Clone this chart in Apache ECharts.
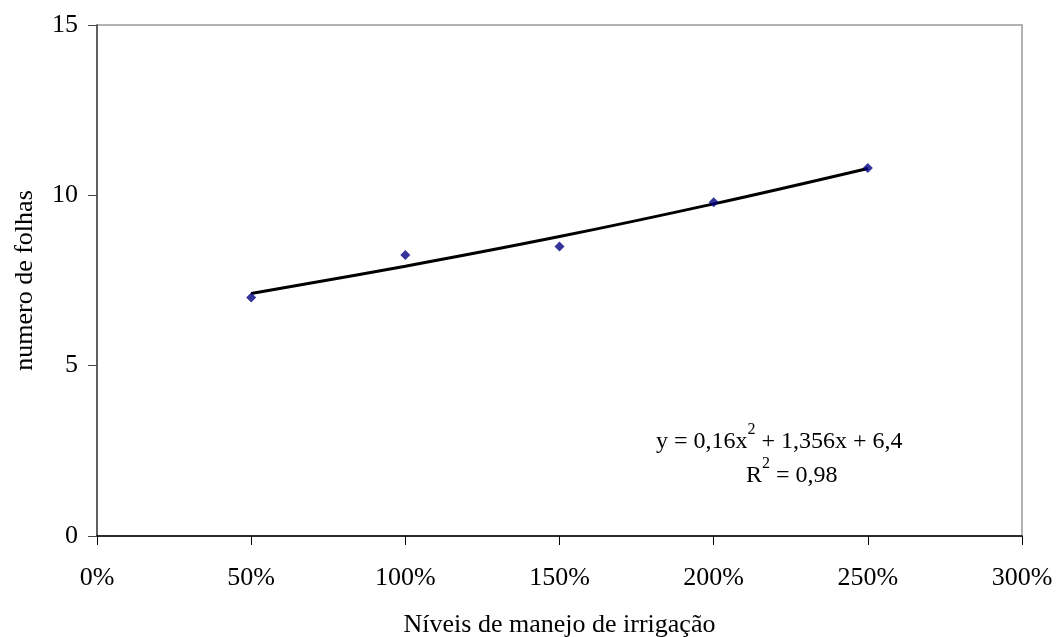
<!DOCTYPE html>
<html><head><meta charset="utf-8">
<script src="https://cdn.jsdelivr.net/npm/echarts@6/dist/echarts.min.js"></script>
<style>html,body{margin:0;padding:0;background:#fff}#c{width:1056px;height:637px}</style>
</head><body><div id="c"></div>
<script>
const xLevels = [0.5, 1.0, 1.5, 2.0, 2.5];
const leafCounts = [7.0, 8.25, 8.5, 9.8, 10.8];
const trendValues = [7.12, 7.92, 8.79, 9.75, 10.79];
const xTicks = ['0%', '50%', '100%', '150%', '200%', '250%', '300%'];
const yTicks = [0, 5, 10, 15];
const FONT = '"Liberation Serif", "Times New Roman", serif';
const FS = 26;
const chart = echarts.init(document.getElementById('c'));
const rich = {
  a: {fontFamily: FONT, fontSize: 24, fill: '#000', lineHeight: 32, verticalAlign: 'bottom'},
  s: {fontFamily: FONT, fontSize: 16, fill: '#000', lineHeight: 32, verticalAlign: 'top'}
};
chart.setOption({
  animation: false,
  grid: {left: 97, right: 34, top: 25, bottom: 101, outerBoundsMode: 'none', containLabel: false,
         show: true, borderColor: '#999', borderWidth: 1.5},
  xAxis: {
    type: 'value', min: 0, max: 3, interval: 0.5,
    name: 'Níveis de manejo de irrigação', nameLocation: 'middle', nameGap: 76,
    nameTextStyle: {fontFamily: FONT, fontSize: FS, color: '#000'},
    axisLine: {lineStyle: {color: '#000', width: 1.5}},
    axisTick: {show: true, length: 9, lineStyle: {color: '#000'}},
    axisLabel: {fontFamily: FONT, fontSize: FS, color: '#000', margin: 29,
      formatter: v => xTicks[Math.round(v / 0.5)]},
    splitLine: {show: false}
  },
  yAxis: {
    type: 'value', min: 0, max: 15, interval: 5,
    name: 'numero de folhas', nameLocation: 'middle', nameGap: 59, nameRotate: 90,
    nameTextStyle: {fontFamily: FONT, fontSize: FS, color: '#000'},
    axisLine: {show: true, lineStyle: {color: '#444', width: 1.5}},
    axisTick: {show: true, length: 9, lineStyle: {color: '#444'}},
    axisLabel: {fontFamily: FONT, fontSize: FS, color: '#000', margin: 19,
      formatter: v => yTicks.includes(v) ? String(v) : ''},
    splitLine: {show: false}
  },
  series: [
    {type: 'line', data: xLevels.map((x, i) => [x, trendValues[i]]), smooth: 0.4,
     showSymbol: false, lineStyle: {color: '#000', width: 3}, z: 2},
    {type: 'scatter', data: xLevels.map((x, i) => [x, leafCounts[i]]),
     symbol: 'diamond', symbolSize: 10, itemStyle: {color: '#000080'}, z: 3}
  ],
  graphic: [
    {type: 'text', left: 656, top: 422, style: {text: '{a|y = 0,16x}{s|2}{a| + 1,356x + 6,4}', rich: rich}},
    {type: 'text', left: 746, top: 456, style: {text: '{a|R}{s|2}{a| = 0,98}', rich: rich}}
  ]
});
</script></body></html>
